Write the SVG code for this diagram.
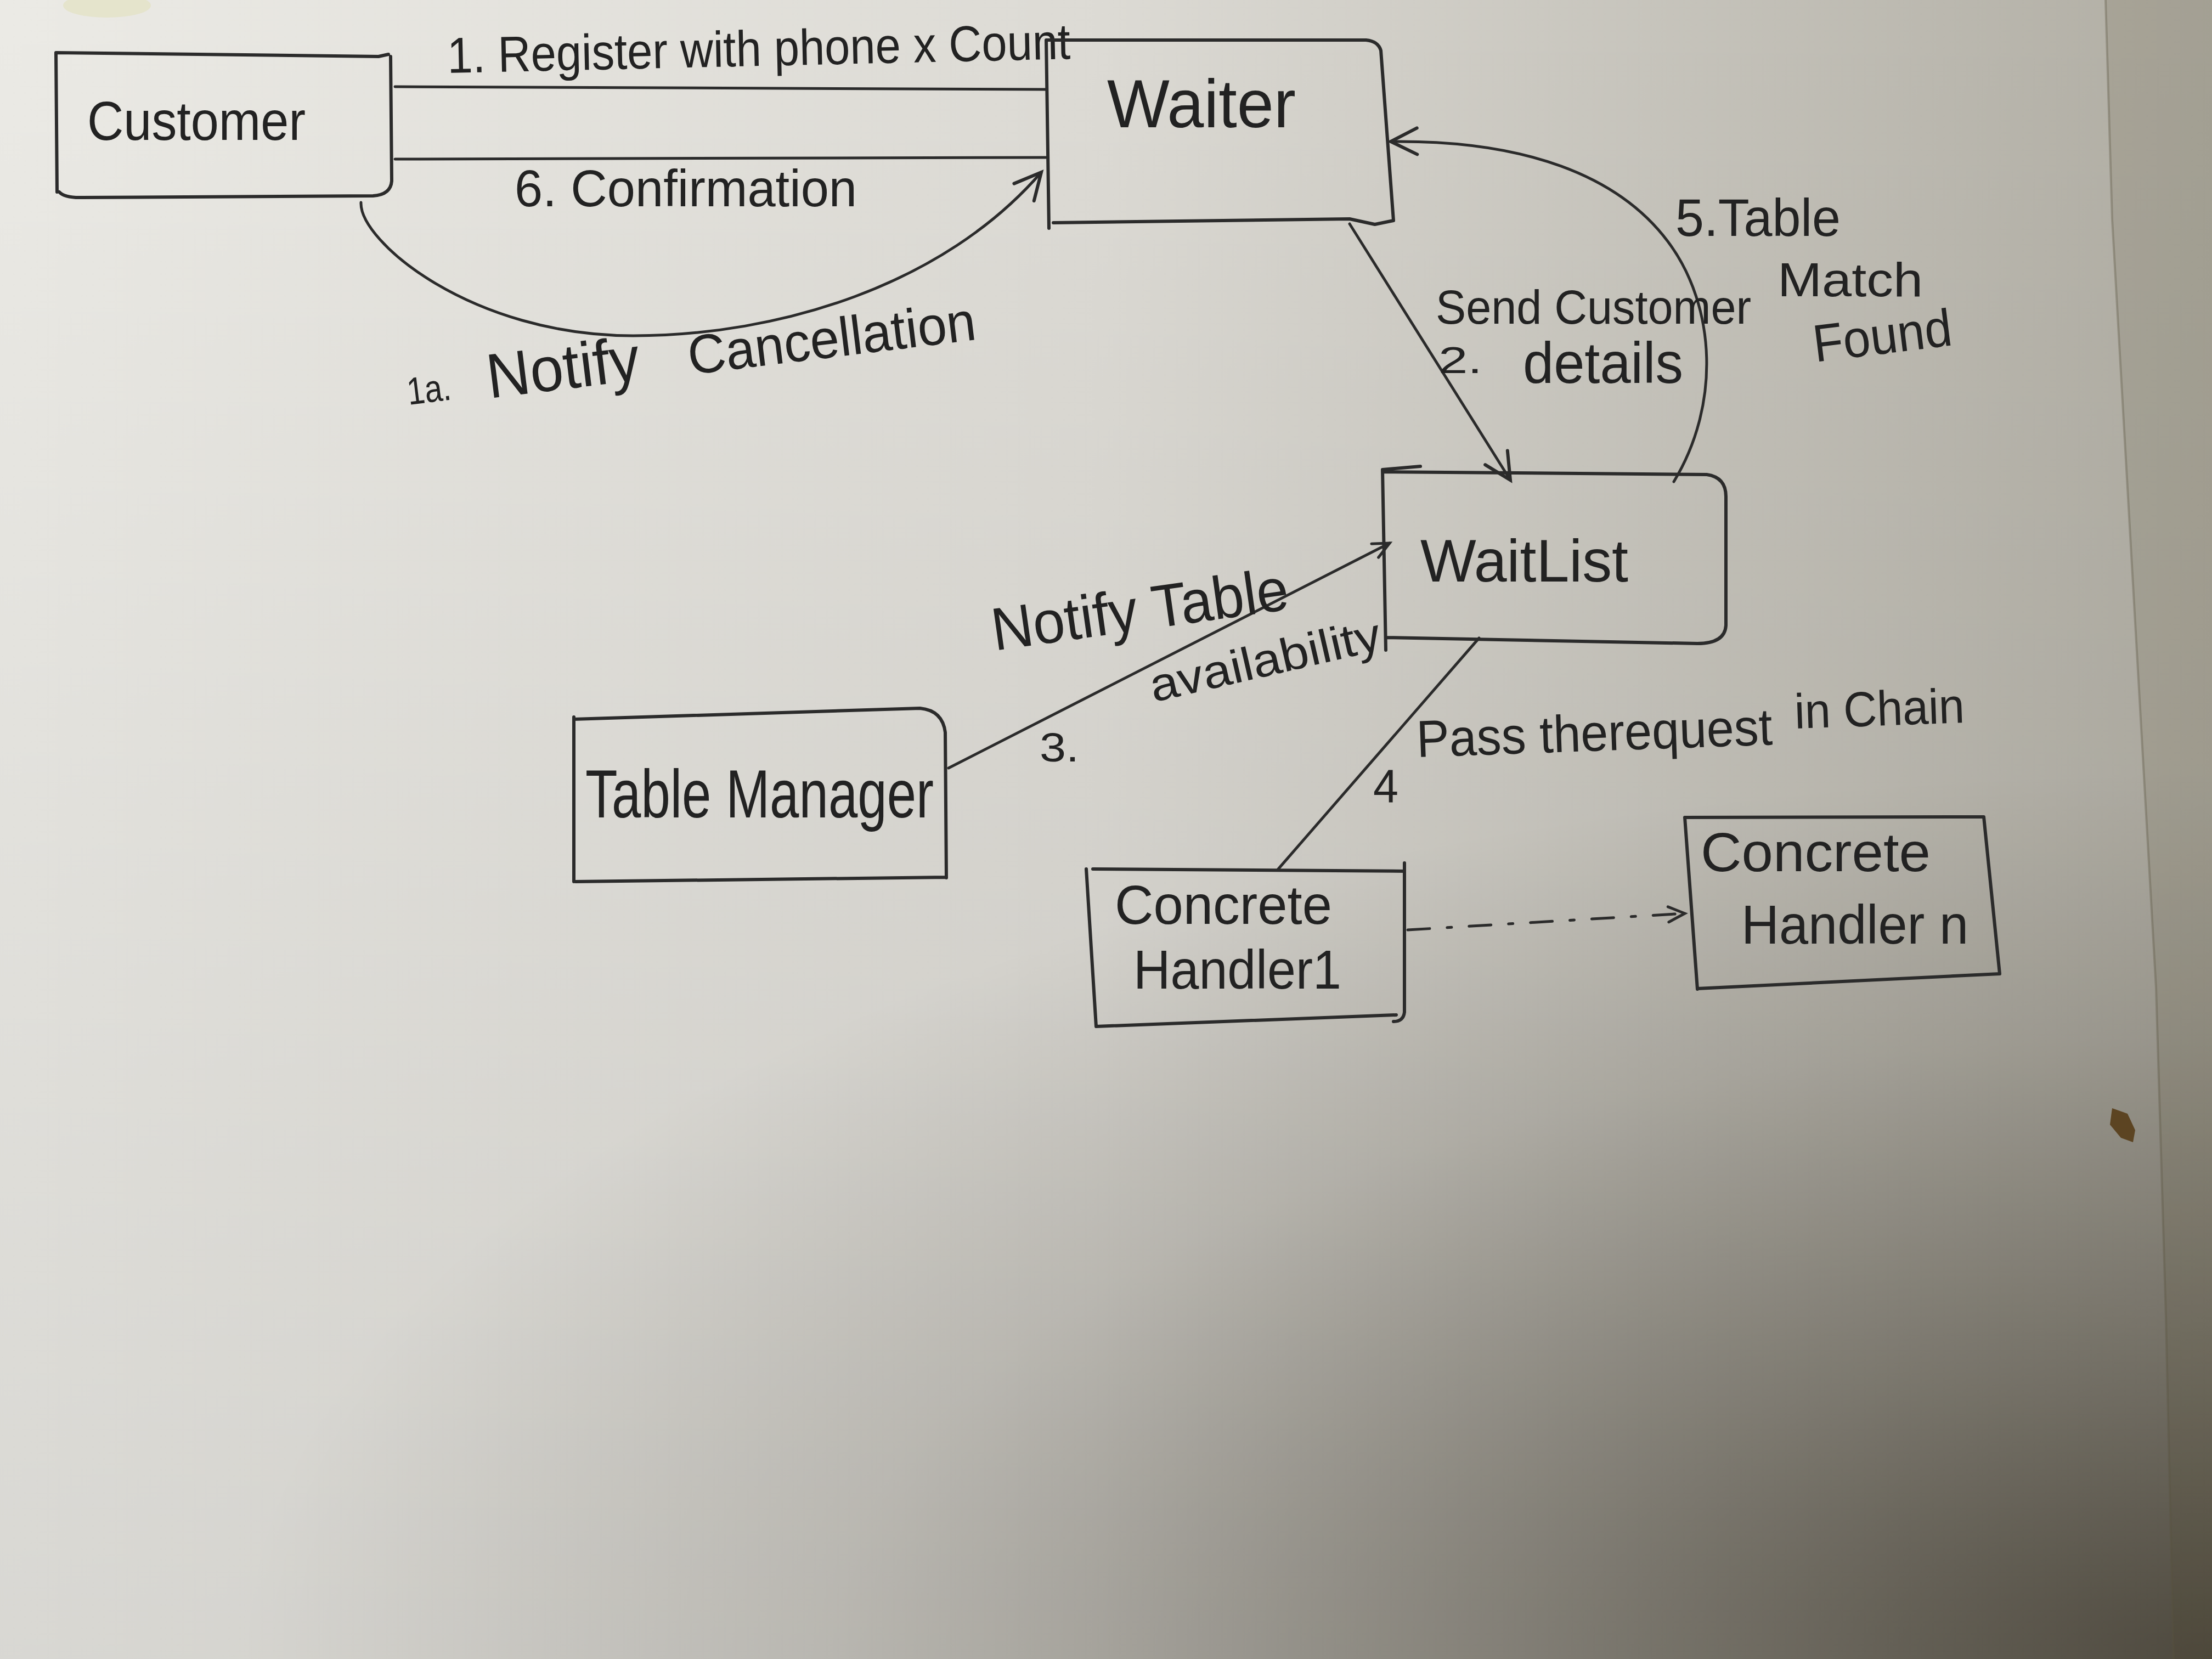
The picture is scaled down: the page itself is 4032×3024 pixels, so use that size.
<svg xmlns="http://www.w3.org/2000/svg" width="4032" height="3024" viewBox="0 0 4032 3024">
<defs>
<linearGradient id="base" gradientUnits="userSpaceOnUse" x1="0" y1="0" x2="4032" y2="0">
<stop offset="0" stop-color="#ebeae5"/>
<stop offset="0.5" stop-color="#dcdad4"/>
<stop offset="1" stop-color="#b0ada3"/>
</linearGradient>
<linearGradient id="vshade" gradientUnits="userSpaceOnUse" x1="0" y1="0" x2="0" y2="3024">
<stop offset="0" stop-color="#000000" stop-opacity="0"/>
<stop offset="1" stop-color="#000000" stop-opacity="0.08"/>
</linearGradient>
<radialGradient id="corner" gradientUnits="userSpaceOnUse" cx="4032" cy="3024" r="3600" gradientTransform="translate(4032 3024) scale(1 0.45) translate(-4032 -3024)">
<stop offset="0" stop-color="#1a1408" stop-opacity="0.62"/>
<stop offset="0.35" stop-color="#1a1408" stop-opacity="0.36"/>
<stop offset="0.7" stop-color="#1a1408" stop-opacity="0.12"/>
<stop offset="1" stop-color="#1a1408" stop-opacity="0"/>
</radialGradient>
<marker id="arr" markerUnits="userSpaceOnUse" markerWidth="80" markerHeight="80" viewBox="-60 -40 70 80" refX="0" refY="0" orient="auto">
<path d="M-48,-24 L0,0 L-48,24" fill="none" stroke="#2b2b2b" stroke-width="6" stroke-linecap="round"/>
</marker>
<marker id="arr-s" markerUnits="userSpaceOnUse" markerWidth="60" markerHeight="60" viewBox="-40 -30 50 60" refX="0" refY="0" orient="auto">
<path d="M-30,-14 L0,0 L-30,14" fill="none" stroke="#2b2b2b" stroke-width="5" stroke-linecap="round"/>
</marker>
</defs>
<style>
.ink{fill:none;stroke:#2b2b2b;stroke-width:6;stroke-linecap:round;stroke-linejoin:round}
.thin{stroke-width:5}
.dash{stroke-dasharray:40 32 8 32}
text{font-family:"Liberation Sans","DejaVu Sans",sans-serif;fill:#222222}
</style>
<rect x="0" y="0" width="4032" height="3024" fill="url(#base)"/>
<rect x="0" y="0" width="4032" height="3024" fill="url(#vshade)"/>
<rect x="0" y="0" width="4032" height="3024" fill="url(#corner)"/>
<path d="M3838,0 L3850,400 L3930,1800 L3948,2400 L3962,3024 L4032,3024 L4032,0 Z" fill="#4a4020" opacity="0.12"/>
<path d="M3838,0 L3850,400 L3930,1800 L3948,2400 L3962,3024" fill="none" stroke="#5a5440" stroke-width="4" opacity="0.35"/>
<ellipse cx="195" cy="10" rx="80" ry="22" fill="#e3e2c6" opacity="0.8"/>
<path d="M3850,2020 L3878,2030 L3892,2060 L3888,2082 L3866,2074 L3846,2050 Z" fill="#5c4422"/>

<g id="connectors">
<path id="e1" class="ink thin" d="M720,158 L1907,163"/>
<path id="e6" class="ink thin" d="M720,290 L1907,287"/>
<path id="e1a" class="ink thin" d="M658,369 C655,440 860,612 1154,612 C1420,612 1720,520 1898,314" marker-end="url(#arr)"/>
<path id="e2" class="ink thin" d="M2460,408 L2753,875" marker-end="url(#arr)"/>
<path id="e5" class="ink thin" d="M3051,878 C3135,740 3130,560 3040,440 C2950,320 2780,255 2535,258" marker-end="url(#arr)"/>
<path id="e3" class="ink thin" d="M1729,1400 L2533,990" marker-end="url(#arr-s)"/>
<path id="e4" class="ink thin" d="M2696,1163 L2330,1584"/>
<path id="e-chain" class="ink thin dash" d="M2566,1695 L3071,1665" marker-end="url(#arr-s)"/>
<text x="816" y="133" font-size="92" textLength="1136" lengthAdjust="spacingAndGlyphs" transform="rotate(-1.3 816 133)">1. Register with phone x Count</text>
<text x="938" y="376" font-size="95" textLength="624" lengthAdjust="spacingAndGlyphs">6. Confirmation</text>
<text x="745" y="738" font-size="70" textLength="80" lengthAdjust="spacingAndGlyphs" transform="rotate(-7 745 738)">1a.</text>
<text x="892" y="726" font-size="115" textLength="280" lengthAdjust="spacingAndGlyphs" transform="rotate(-7 892 726)">Notify</text>
<text x="1258" y="683" font-size="100" textLength="528" lengthAdjust="spacingAndGlyphs" transform="rotate(-7 1258 683)">Cancellation</text>
<text x="2617" y="590" font-size="88" textLength="575" lengthAdjust="spacingAndGlyphs">Send Customer</text>
<text x="2622" y="680" font-size="68" textLength="80" lengthAdjust="spacingAndGlyphs">2.</text>
<text x="2776" y="698" font-size="105" textLength="292" lengthAdjust="spacingAndGlyphs">details</text>
<text x="3054" y="430" font-size="96" textLength="301" lengthAdjust="spacingAndGlyphs">5.Table</text>
<text x="3240" y="540" font-size="88" textLength="265" lengthAdjust="spacingAndGlyphs">Match</text>
<text x="3309" y="660" font-size="96" textLength="254" lengthAdjust="spacingAndGlyphs" transform="rotate(-7 3309 660)">Found</text>
<text x="1813" y="1186" font-size="110" textLength="545" lengthAdjust="spacingAndGlyphs" transform="rotate(-8 1813 1186)">Notify Table</text>
<text x="2103" y="1280" font-size="85" textLength="430" lengthAdjust="spacingAndGlyphs" transform="rotate(-13 2103 1280)">availability</text>
<text x="1895" y="1388" font-size="75" textLength="72" lengthAdjust="spacingAndGlyphs">3.</text>
<text x="2583" y="1380" font-size="95" textLength="649" lengthAdjust="spacingAndGlyphs" transform="rotate(-2 2583 1380)">Pass therequest</text>
<text x="3272" y="1328" font-size="90" textLength="310" lengthAdjust="spacingAndGlyphs" transform="rotate(-2 3272 1328)">in Chain</text>
<text x="2503" y="1462" font-size="85" textLength="46" lengthAdjust="spacingAndGlyphs">4</text>
</g>

<g id="customer">
<path class="ink" d="M102,96 L690,103 L708,99 M712,103 L714,330 Q712,355 680,357 L150,360 Q118,361 108,350 M102,96 L104,350"/>
<text x="159" y="255" font-size="100" textLength="398" lengthAdjust="spacingAndGlyphs">Customer</text>
</g>
<g id="waiter">
<path class="ink" d="M1907,73 L2490,73 Q2512,75 2517,92 L2540,402 M1920,406 L2460,399 L2506,409 L2540,402 M1907,73 L1912,416"/>
<text x="2018" y="232" font-size="125" textLength="344" lengthAdjust="spacingAndGlyphs">Waiter</text>
</g>
<g id="waitlist">
<path class="ink" d="M2520,856 L2589,850 M2520,860 L3111,865 Q3146,870 3146,905 L3146,1140 Q3144,1173 3094,1173 L2526,1162 M2520,856 L2526,1185"/>
<text x="2589" y="1060" font-size="110" textLength="379" lengthAdjust="spacingAndGlyphs">WaitList</text>
</g>
<g id="table-manager">
<path class="ink" d="M1046,1311 L1677,1291 Q1718,1295 1723,1335 L1725,1600 M1049,1607 L1725,1599 M1046,1307 L1046,1607"/>
<text x="1067" y="1490" font-size="125" textLength="635" lengthAdjust="spacingAndGlyphs">Table Manager</text>
</g>
<g id="handler-1">
<path class="ink" d="M1992,1584 L2560,1588 M2560,1573 L2560,1845 Q2558,1862 2540,1862 M1998,1871 L2545,1850 M1980,1584 L1998,1871"/>
<text x="2032" y="1684" font-size="100" textLength="396" lengthAdjust="spacingAndGlyphs">Concrete</text>
<text x="2066" y="1802" font-size="100" textLength="379" lengthAdjust="spacingAndGlyphs">Handler1</text>
</g>
<g id="handler-n">
<path class="ink" d="M3071,1490 L3616,1489 L3645,1775 M3094,1802 L3645,1775 M3071,1490 L3094,1803"/>
<text x="3100" y="1588" font-size="100" textLength="419" lengthAdjust="spacingAndGlyphs">Concrete</text>
<text x="3174" y="1720" font-size="100" textLength="414" lengthAdjust="spacingAndGlyphs">Handler n</text>
</g>
</svg>
